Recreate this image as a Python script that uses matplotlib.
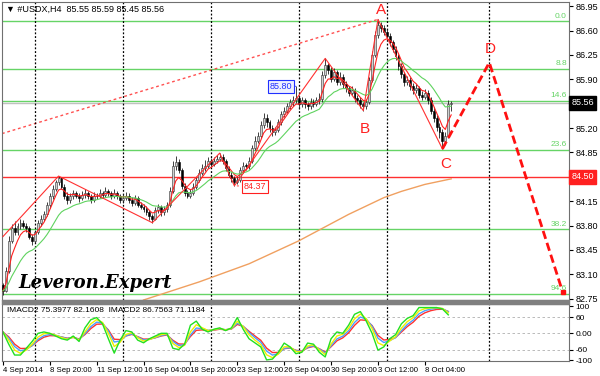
import matplotlib.pyplot as plt
import numpy as np
import pandas as pd
from matplotlib.patches import Rectangle

plt.rcParams['font.family'] = ['Liberation Sans', 'DejaVu Sans']

# USDX H4 candles, bar 0 = 4 Sep 2014 04:00
first_open = 82.95
closes = [82.86, 83.15, 83.58, 83.76, 83.70, 83.79, 83.84, 83.80, 83.76, 83.64,
          83.58, 83.70, 83.84, 83.90, 83.96, 84.09, 84.22, 84.33, 84.42, 84.48,
          84.36, 84.23, 84.16, 84.22, 84.26, 84.23, 84.19, 84.24, 84.27, 84.22,
          84.17, 84.23, 84.22, 84.27, 84.24, 84.30, 84.26, 84.22, 84.27, 84.22,
          84.16, 84.20, 84.23, 84.17, 84.13, 84.19, 84.10, 84.07, 84.04, 83.99,
          83.93, 83.90, 84.02, 84.06, 83.99, 84.04, 84.09, 84.30, 84.66, 84.71,
          84.59, 84.37, 84.27, 84.23, 84.27, 84.36, 84.45, 84.56, 84.62, 84.66,
          84.73, 84.68, 84.73, 84.76, 84.79, 84.73, 84.62, 84.53, 84.48, 84.42,
          84.45, 84.59, 84.66, 84.65, 84.73, 84.91, 85.02, 85.09, 85.24, 85.34,
          85.28, 85.20, 85.14, 85.17, 85.28, 85.40, 85.45, 85.51, 85.57, 85.60,
          85.63, 85.54, 85.60, 85.54, 85.51, 85.58, 85.55, 85.60, 85.62, 85.96,
          86.10, 86.03, 85.91, 86.00, 85.86, 85.94, 85.83, 85.77, 85.71, 85.74,
          85.63, 85.60, 85.54, 85.51, 85.57, 85.89, 86.25, 86.53, 86.68, 86.63,
          86.58, 86.52, 86.43, 86.34, 86.23, 86.09, 85.97, 85.86, 85.89, 85.80,
          85.74, 85.77, 85.68, 85.65, 85.71, 85.60, 85.45, 85.34, 85.22, 85.14,
          85.02, 85.09, 85.55, 85.56]
highs = [82.98, 83.20, 83.65, 83.82, 83.86, 83.84, 83.90, 83.88, 83.84, 83.79,
         83.68, 83.74, 83.88, 83.95, 84.01, 84.14, 84.27, 84.38, 84.46, 84.51,
         84.50, 84.40, 84.28, 84.27, 84.31, 84.30, 84.27, 84.29, 84.33, 84.30,
         84.25, 84.28, 84.27, 84.32, 84.30, 84.35, 84.33, 84.30, 84.32, 84.30,
         84.25, 84.25, 84.28, 84.26, 84.21, 84.24, 84.22, 84.14, 84.11, 84.08,
         84.02, 83.97, 84.07, 84.11, 84.09, 84.08, 84.14, 84.36, 84.72, 84.80,
         84.76, 84.62, 84.41, 84.31, 84.32, 84.41, 84.50, 84.61, 84.68, 84.74,
         84.78, 84.77, 84.79, 84.81, 84.84, 84.82, 84.76, 84.66, 84.57, 84.51,
         84.50, 84.64, 84.71, 84.70, 84.78, 84.96, 85.08, 85.15, 85.30, 85.42,
         85.40, 85.32, 85.24, 85.22, 85.33, 85.45, 85.50, 85.56, 85.62, 85.66,
         85.80, 85.67, 85.64, 85.63, 85.58, 85.63, 85.62, 85.65, 85.70, 86.02,
         86.20, 86.14, 86.07, 86.06, 86.04, 86.00, 85.98, 85.88, 85.81, 85.80,
         85.78, 85.68, 85.64, 85.58, 85.62, 85.94, 86.30, 86.60, 86.76, 86.72,
         86.68, 86.62, 86.56, 86.47, 86.38, 86.27, 86.13, 86.01, 85.95, 85.93,
         85.85, 85.83, 85.81, 85.73, 85.76, 85.75, 85.64, 85.50, 85.38, 85.27,
         85.18, 85.15, 85.60, 85.59]
lows = [82.80, 82.84, 83.12, 83.55, 83.66, 83.66, 83.75, 83.76, 83.70, 83.60,
        83.52, 83.55, 83.68, 83.80, 83.86, 83.93, 84.05, 84.18, 84.29, 84.38,
        84.32, 84.18, 84.11, 84.12, 84.18, 84.19, 84.14, 84.16, 84.20, 84.18,
        84.12, 84.14, 84.18, 84.19, 84.20, 84.21, 84.22, 84.18, 84.19, 84.18,
        84.12, 84.13, 84.17, 84.13, 84.08, 84.10, 84.06, 84.03, 84.00, 83.95,
        83.88, 83.84, 83.88, 83.98, 83.94, 83.95, 84.00, 84.06, 84.27, 84.60,
        84.55, 84.32, 84.22, 84.19, 84.20, 84.24, 84.32, 84.42, 84.52, 84.58,
        84.62, 84.64, 84.65, 84.70, 84.72, 84.68, 84.58, 84.49, 84.43, 84.37,
        84.39, 84.42, 84.55, 84.60, 84.61, 84.70, 84.88, 84.98, 85.06, 85.20,
        85.22, 85.14, 85.08, 85.10, 85.14, 85.25, 85.36, 85.41, 85.47, 85.52,
        85.56, 85.48, 85.50, 85.49, 85.46, 85.48, 85.50, 85.52, 85.55, 85.58,
        85.92, 85.98, 85.86, 85.87, 85.82, 85.82, 85.78, 85.72, 85.66, 85.68,
        85.58, 85.55, 85.49, 85.45, 85.48, 85.54, 85.86, 86.22, 86.50, 86.58,
        86.53, 86.47, 86.38, 86.29, 86.18, 86.04, 85.92, 85.80, 85.82, 85.74,
        85.69, 85.70, 85.63, 85.60, 85.61, 85.55, 85.40, 85.28, 85.16, 85.06,
        84.90, 84.96, 85.05, 85.45]

# 200 period MA (only visible part), read at a few bars
ma200_bars = [48, 67, 84, 101, 118, 130, 136, 144, 153]
ma200_vals = [82.73, 82.99, 83.25, 83.58, 83.96, 84.20, 84.29, 84.39, 84.47]

# zigzag pivots (bar, price)
zz_bars = [0, 19, 51, 74, 79, 110, 123, 128, 150]
zz_vals = [83.64, 84.51, 83.84, 84.84, 84.37, 86.20, 85.45, 86.76, 84.90]

# projected C -> D -> target
proj_bars = [150, 166, 191]
proj_vals = [84.90, 86.14, 82.85]

trend_bars = [-0.3, 128]
trend_vals = [85.12, 86.76]

fib_levels = [86.73, 86.05, 85.59, 84.89, 83.75, 82.82]
fib_names = ['0.0', '8.8', '14.6', '23.6', '38.2', '94.6']
level_red = 84.50
last_price = 85.56

week_seps = [11, 41, 71, 101, 131, 166]
date_bars = [0, 16, 32, 48, 64, 80, 96, 112, 128, 144]
date_labels = ['4 Sep 2014', '8 Sep 20:00', '11 Sep 12:00', '16 Sep 04:00', '18 Sep 20:00',
               '23 Sep 12:00', '26 Sep 04:00', '30 Sep 20:00', '3 Oct 12:00', '8 Oct 04:00']

# IMACD2 fast line, every second bar
osc_fast = [5, -40, -80, -80, -55, -30, 0, 5, 0, -10, -20, -25, -10, -30, 20, 50, 58, 35,
            -20, -73, -25, 10, 5, -25, -35, -20, -10, 0, 0, -55, -60, -40, 30, 45, 15, 5,
            15, 20, 10, 20, 58, 15, -20, -35, -50, -98, -95, -70, -36, -50, -75, -70, -36,
            -40, -70, -87, -20, 5, 0, 30, 70, 80, 45, 0, -62, -50, -20, -5, 35, 55, 65, 95,
            95, 95, 95, 90, 68]

W, H = 600, 376
fig = plt.figure(figsize=(6, 3.76), dpi=100)
ax = fig.add_axes([2 / W, 1 - 300 / H, 567 / W, 298 / H])
osc = fig.add_axes([2 / W, 1 - 361 / H, 567 / W, 57 / H])

x = np.arange(len(closes))
c = np.array(closes)
o = np.r_[first_open, c[:-1]]
up = c >= o

ax.vlines(x, lows, highs, color='#202020', lw=0.6, zorder=3)
body = np.where(np.abs(c - o) < 0.01, 0.01, c - o)
ax.bar(x[up], body[up], bottom=o[up], width=0.65, color='#d0d0d0', edgecolor='#303030', lw=0.4, zorder=4)
ax.bar(x[~up], body[~up], bottom=o[~up], width=0.65, color='black', edgecolor='black', lw=0.4, zorder=4)

s = pd.Series(closes)
ax.plot(x, s.ewm(span=5, adjust=False).mean(), color='#ff2020', lw=0.8, zorder=5)
ax.plot(x, s.ewm(span=16, adjust=False).mean(), color='#5fd35f', lw=0.8, zorder=5)
ax.plot(ma200_bars, ma200_vals, color='#f0a060', lw=1, zorder=2)

for lv, nm in zip(fib_levels, fib_names):
    ax.axhline(lv, color='#66d466', lw=1, zorder=1)
    ax.text(192.5, lv + 0.02, nm, color='#66d466', fontsize=6, ha='right', va='bottom')
ax.axhline(level_red, color='#ff3030', lw=1, zorder=1)
ax.axhline(last_price, color='#c0c0c0', lw=1, zorder=1)

ax.plot(zz_bars, zz_vals, color='#ff3030', lw=0.8, zorder=6)
ax.plot(trend_bars, trend_vals, color='#ff5050', lw=1, ls=(0, (2, 2)), zorder=1)
ax.plot(proj_bars, proj_vals, color='#ff1010', lw=2, ls=(0, (3, 1.5)), zorder=6)
ax.plot(proj_bars[-1], proj_vals[-1], marker='s', color='#ff1010', ms=3)

for name, bx, py in [('A', 129, 86.89), ('B', 123.5, 85.19), ('C', 151, 84.69), ('D', 166.2, 86.33)]:
    ax.text(bx, py, name, color='#ff2020', fontsize=11, ha='center', va='center')

ax.annotate('85.80', xy=(100, highs[100]), xytext=(94.8, highs[100]), color='#2030ff', fontsize=6.5,
            ha='center', va='center', arrowprops=dict(arrowstyle='-', color='#2030ff', lw=0.6),
            bbox=dict(boxstyle='square,pad=0.2', fc='#eef0ff', ec='#2030ff', lw=0.8), zorder=7)
ax.annotate('84.37', xy=(79, lows[79]), xytext=(86, lows[79] - 0.01), color='#ff2020', fontsize=6.5,
            ha='center', va='center', arrowprops=dict(arrowstyle='-', color='#ff2020', lw=0.6),
            bbox=dict(boxstyle='square,pad=0.2', fc='white', ec='#ff2020', lw=0.8), zorder=7)

for sep in week_seps:
    ax.axvline(sep, color='black', lw=0.9, ls=(0, (1.5, 1.5)), zorder=1)
    osc.axvline(sep, color='black', lw=0.9, ls=(0, (1.5, 1.5)), zorder=1)

ax.set_xlim(-0.3, 193.2)
ax.set_ylim(82.73, 87.01)
ax.yaxis.tick_right()
yt = [86.95, 86.60, 86.25, 85.90, 85.20, 84.85, 84.15, 83.80, 83.45, 83.10, 82.75]
ax.set_yticks(yt)
ax.set_yticklabels([f'{v:.2f}' for v in yt])
ax.tick_params(axis='y', labelsize=6.5, length=3, pad=1.5)
ax.set_xticks([])
ax.text(1.004, (last_price - 82.73) / (87.01 - 82.73), f'{last_price:.2f}', transform=ax.transAxes,
        fontsize=6.5, color='white', va='center', ha='left',
        bbox=dict(boxstyle='square,pad=0.25', fc='black', ec='black'))
ax.text(1.004, (level_red - 82.73) / (87.01 - 82.73), f'{level_red:.2f}', transform=ax.transAxes,
        fontsize=6.5, color='white', va='center', ha='left',
        bbox=dict(boxstyle='square,pad=0.25', fc='#ff2020', ec='#ff2020'))

# oscillator lines: fast line and its smoothed signals
ox = np.arange(0, 2 * len(osc_fast), 2)
f = pd.Series(osc_fast, dtype=float)
osc.plot(ox, f.ewm(span=4, adjust=False).mean(), color='#ff3030', lw=1)
osc.plot(ox, f.ewm(span=3, adjust=False).mean(), color='#4aa0ff', lw=1)
osc.plot(ox, f.ewm(span=2, adjust=False).mean(), color='#f0f000', lw=1)
osc.plot(ox, f, color='#22e022', lw=1)
for g in [60, 0, -60]:
    osc.axhline(g, color='#b0b0b0', lw=0.6, ls=(0, (3, 3)), zorder=0)
osc.set_xlim(-0.3, 193.2)
osc.set_ylim(-102, 108)
osc.yaxis.tick_right()
osc.set_yticks([100, 60, 0, -60, -100])
osc.set_yticklabels(['100', '60', '0.00', '-60', '-100'])
osc.tick_params(axis='y', labelsize=6, length=3, pad=1.5)
osc.set_xticks(date_bars)
osc.set_xticklabels(date_labels)
osc.tick_params(axis='x', labelsize=5.6, length=3, pad=1)
for lbl in osc.get_xticklabels():
    lbl.set_ha('left')

for a in (ax, osc):
    for sp in a.spines.values():
        sp.set_color('#707070')
        sp.set_linewidth(0.8)

fig.patches.append(Rectangle((2 / W, 1 - 304 / H), 567 / W, 4 / H, transform=fig.transFigure,
                             color='#808080', zorder=10))
fig.text(6 / W, 1 - 9 / H, '\u25BC #USDX,H4  85.55 85.59 85.45 85.56', fontsize=6.5, va='center')
fig.text(7 / W, 1 - 311 / H, 'IMACD2 75.3977 82.1608  IMACD2 86.7563 71.1184', fontsize=6, va='center')
fig.text(18 / W, 1 - 283 / H, 'Leveron.Expert', fontsize=13, family='DejaVu Serif',
         style='italic', weight='bold', va='center')

fig.savefig('out.png', dpi=100)
